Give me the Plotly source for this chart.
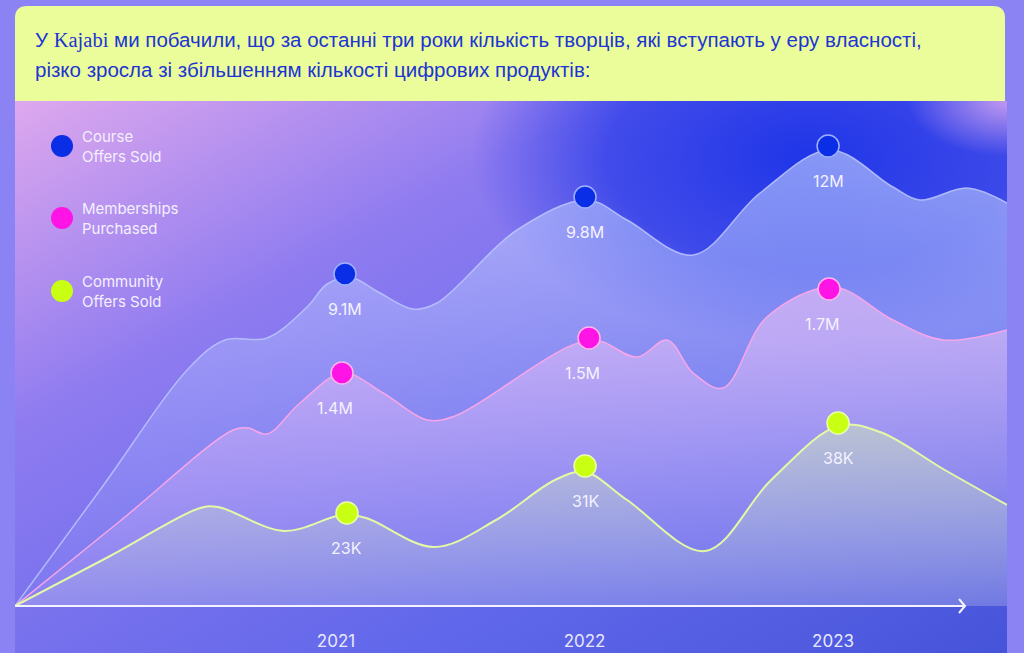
import base64
import plotly.graph_objects as go

# Reading of the picture: x in years, y in chart height units above the baseline
course_x = [2019.708, 2020.050, 2020.412, 2020.553, 2020.722, 2020.883, 2020.964, 2021.056,
            2021.177, 2021.310, 2021.406, 2021.728, 2022.010, 2022.171, 2022.437, 2022.706,
            2022.988, 2023.241, 2023.350, 2023.539, 2023.700]
course_y = [0, 116, 239, 266, 268, 299, 322, 329, 313, 297, 303, 376, 406, 386, 351, 413,
            456, 419, 406, 418, 403]

members_x = [2019.708, 2020.131, 2020.586, 2020.646, 2020.722, 2020.855, 2021.028, 2021.189,
             2021.366, 2021.479, 2022.022, 2022.211, 2022.332, 2022.437, 2022.557, 2022.734,
             2023.000, 2023.241, 2023.443, 2023.700]
members_y = [0, 85, 176, 178, 172, 203, 233, 213, 186, 190, 266, 249, 266, 233, 218, 289,
             319, 286, 266, 276]

community_x = [2019.708, 2020.091, 2020.453, 2020.525, 2020.791, 2021.024, 2021.121, 2021.394,
               2021.644, 2021.881, 2022.002, 2022.171, 2022.485, 2022.751, 2023.020, 2023.189,
               2023.443, 2023.700]
community_y = [0, 50, 98, 99, 75, 91, 88, 59, 86, 126, 134, 106, 55, 126, 180, 174, 137, 101]

# highlighted yearly values
course_dot_x = [2021.036, 2022.002, 2022.980]
course_dot_y = [332, 409, 460]
course_labels = ['9.1M', '9.8M', '12M']

members_dot_x = [2021.024, 2022.018, 2022.984]
members_dot_y = [233, 268, 317]
members_labels = ['1.4M', '1.5M', '1.7M']

community_dot_x = [2021.044, 2022.002, 2023.020]
community_dot_y = [93, 140, 183]
community_labels = ['23K', '31K', '38K']

years = [2021, 2022, 2023]
year_labels = ['2021', '2022', '2023']

series_names = ['Course<br>Offers Sold', 'Memberships<br>Purchased', 'Community<br>Offers Sold']

header_1 = ('У <span style="font-family:\'Liberation Serif\'">Kajabi</span> ми побачили, що за останні '
            'три роки кількість творців, які вступають у еру власності,')
header_2 = 'різко зросла зі збільшенням кількості цифрових продуктів:'

# background panel gradient as an svg image
svg = """<svg xmlns='http://www.w3.org/2000/svg' width='992' height='552' viewBox='0 0 992 552' preserveAspectRatio='none'>
<defs>
<linearGradient id='a' x1='0' y1='0' x2='1' y2='1'>
<stop offset='0' stop-color='#dea8ee'/>
<stop offset='0.3' stop-color='#8e7bf0'/>
<stop offset='0.7' stop-color='#6067ea'/>
<stop offset='1' stop-color='#4654da'/>
</linearGradient>
<radialGradient id='b' cx='0.8' cy='0.1' r='0.34'>
<stop offset='0' stop-color='#1f35e8' stop-opacity='1'/>
<stop offset='0.6' stop-color='#2a3ce8' stop-opacity='0.75'/>
<stop offset='1' stop-color='#3040e8' stop-opacity='0'/>
</radialGradient>
<radialGradient id='c' cx='1' cy='0' r='0.1'>
<stop offset='0' stop-color='#c79cf0' stop-opacity='0.95'/>
<stop offset='1' stop-color='#c79cf0' stop-opacity='0'/>
</radialGradient>
</defs>
<rect width='992' height='552' fill='url(#a)'/>
<rect width='992' height='552' fill='url(#b)'/>
<rect width='992' height='552' fill='url(#c)'/>
</svg>"""
bg_src = 'data:image/svg+xml;base64,' + base64.b64encode(svg.encode()).decode()

W, H = 1024, 653
L, R, T, B = 15, 17, 103, 47
PW, PH = W - L - R, H - T - B


def px_x(p):
    return (p - L) / PW


def px_y(p):
    return (H - B - p) / PH


fig = go.Figure()

areas = [
    (course_x, course_y, 'rgba(188,198,255,0.85)', 1.5,
     [[0, 'rgba(150,170,255,0.08)'], [1, 'rgba(200,212,255,0.62)']]),
    (members_x, members_y, '#f7a6ea', 1.5,
     [[0, 'rgba(205,175,250,0.15)'], [1, 'rgba(240,195,245,0.62)']]),
    (community_x, community_y, '#e4f8a6', 2,
     [[0, 'rgba(190,210,220,0.15)'], [1, 'rgba(205,228,185,0.55)']]),
]
for xs, ys, lc, lw, cs in areas:
    fig.add_trace(go.Scatter(x=xs, y=ys, mode='lines', line=dict(color=lc, width=lw, shape='spline', smoothing=1),
                             fill='tozeroy', fillgradient=dict(type='vertical', colorscale=cs),
                             hoverinfo='skip', showlegend=False))

dots = [
    (course_dot_x, course_dot_y, course_labels, '#0a2ee6', '#9fb0ff', 0),
    (members_dot_x, members_dot_y, members_labels, '#ff14e6', '#ffb4f2', -7),
    (community_dot_x, community_dot_y, community_labels, '#c8ff12', '#eaffa8', 0),
]
for xs, ys, labels, c, oc, dx in dots:
    fig.add_trace(go.Scatter(x=xs, y=ys, mode='markers', cliponaxis=False,
                             marker=dict(size=22, color=c, line=dict(color=oc, width=1.5)),
                             showlegend=False))
    for x, y, t in zip(xs, ys, labels):
        fig.add_annotation(x=x, y=y, text=t, showarrow=False, yshift=-35, xshift=dx,
                           font=dict(family='Inter, Roboto, sans-serif', size=16, color='#f4f2ff'))

# custom legend
legend_colors = ['#0a2ee6', '#ff14e6', '#c8ff12']
legend_rows = [146, 218, 291]
for name, c, py in zip(series_names, legend_colors, legend_rows):
    fig.add_shape(type='circle', xref='paper', yref='paper', xsizemode='pixel', ysizemode='pixel',
                  xanchor=px_x(62), yanchor=px_y(py), x0=-11, x1=11, y0=-11, y1=11,
                  fillcolor=c, line=dict(width=0))
    fig.add_annotation(x=px_x(80), y=px_y(py), xref='paper', yref='paper', text=name, showarrow=False,
                       xanchor='left', yanchor='middle', align='left',
                       font=dict(family='Inter, Roboto, sans-serif', size=15, color='#f3f0ff'))

# header box
rx, ry = 12 / PW, 12 / PH
top, bot, right = px_y(6), px_y(101), px_x(1005)
fig.add_shape(type='path', xref='paper', yref='paper', line=dict(width=0), fillcolor='#ebfc9b',
              path=(f'M 0,{bot} L 0,{top - ry} Q 0,{top} {rx},{top} L {right - rx},{top} '
                    f'Q {right},{top} {right},{top - ry} L {right},{bot} Z'))
for txt, py in [(header_1, 40), (header_2, 70)]:
    fig.add_annotation(x=px_x(33), y=px_y(py), xref='paper', yref='paper', text=txt, showarrow=False,
                       xanchor='left', yanchor='middle',
                       font=dict(family='Liberation Sans, Arial, sans-serif', size=20.5, color='#1c35d4'))

# axis arrow
fig.add_shape(type='line', xref='paper', yref='paper', x0=0, x1=px_x(965), y0=0, y1=0,
              line=dict(color='#f4f2ff', width=2))
fig.add_shape(type='path', xref='paper', yref='paper', xsizemode='pixel', ysizemode='pixel',
              xanchor=px_x(965), yanchor=0, path='M -6,-7 L 0,0 L -6,7',
              line=dict(color='#f4f2ff', width=2))

fig.add_layout_image(source=bg_src, xref='paper', yref='paper', x=0, y=px_y(101),
                     sizex=1, sizey=(H - 101) / PH, xanchor='left', yanchor='top',
                     sizing='stretch', layer='below')

fig.update_layout(width=W, height=H, margin=dict(l=L, r=R, t=T, b=B, autoexpand=False),
                  paper_bgcolor='#8b82f4', plot_bgcolor='rgba(0,0,0,0)', showlegend=False)
fig.update_xaxes(range=[2019.708, 2023.700], tickvals=years, ticktext=year_labels, automargin=False,
                 showgrid=False, zeroline=False, showline=False, ticks='outside', ticklen=20,
                 tickcolor='rgba(0,0,0,0)', tickfont=dict(family='Inter, Roboto, sans-serif', size=17, color='#e8e8ff'))
fig.update_yaxes(range=[0, PH], visible=False, automargin=False)

# the page has a default body margin; drop it so the figure sits at the window corner
fig.write_html("out.html", config={'displayModeBar': False},
               post_script="document.body.style.margin='0';")
